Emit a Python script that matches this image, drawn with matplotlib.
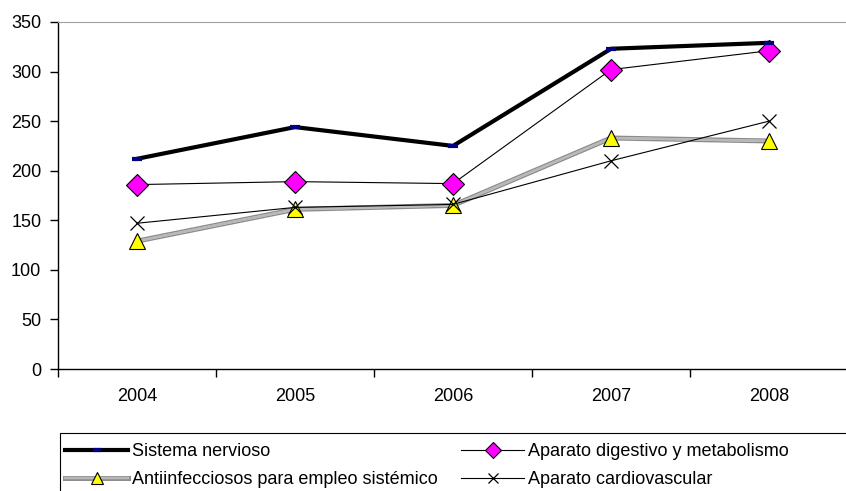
import numpy as np
import matplotlib.pyplot as plt
import matplotlib.patheffects as pe
from matplotlib.patches import Rectangle

plt.rcParams['font.family'] = ['Liberation Sans', 'DejaVu Sans']

# datos
years = ["2004", "2005", "2006", "2007", "2008"]
nervioso = [212, 244, 225, 323, 329]
digestivo = [186, 189, 187, 302, 321]
antiinf = [129, 161, 165, 233, 230]
cardio = [147, 163, 166, 210, 250]

W, H = 846, 491
fig = plt.figure(figsize=(W / 100, H / 100), dpi=100)
ax = fig.add_axes([58 / W, 1 - 369 / H, (848 - 58) / W, (369 - 22) / H])

x = np.arange(len(years))

# linea gris "rayada" de antiinfecciosos
gris = [pe.Stroke(linewidth=3.6, foreground="#8c8c8c"),
        pe.Stroke(linewidth=1.6, foreground="#d4d4d4"), pe.Normal()]

l1, = ax.plot(x, nervioso, color="black", lw=3, marker="_", ms=7, mew=3,
              mec="#000080", label="Sistema nervioso", zorder=5)
l2, = ax.plot(x, digestivo, color="black", lw=0.8, marker="D", ms=11, mfc="#ff00ff",
              mec="black", mew=0.8, label="Aparato digestivo y metabolismo", zorder=4)
l3, = ax.plot(x, antiinf, color="#b8b8b8", lw=1.6, label="Antiinfecciosos para empleo sistémico",
              zorder=3, path_effects=gris)
m3, = ax.plot(x, antiinf, ls="none", marker="^", ms=12, mfc="#ffff00",
              mec="black", mew=0.8, zorder=3.5)
l4, = ax.plot(x, cardio, color="black", lw=0.8, marker="x", ms=10, mew=0.9,
              label="Aparato cardiovascular", zorder=4)

ax.set_xlim(-0.5, len(years) - 0.5)
ax.set_ylim(0, 350)
ax.set_yticks(np.arange(0, 351, 50))
ax.set_xticks(x)
ax.set_xticklabels(years)
ax.set_xticks(np.arange(-0.5, len(years), 1), minor=True)
ax.tick_params(axis="x", which="major", length=0, pad=14, labelsize=13)
ax.tick_params(axis="x", which="minor", length=6, direction="out", width=1)
ax.tick_params(axis="y", length=6, direction="out", labelsize=13, width=1, pad=6)

ax.spines["top"].set_color("#a0a0a0")
ax.spines["right"].set_visible(False)
ax.spines["left"].set_linewidth(1)
ax.spines["bottom"].set_linewidth(1)

# leyenda: marcador del triangulo junto con la linea gris
h3 = (l3, m3)
leg = fig.legend(handles=[l1, h3, l2, l4],
                 labels=[l1.get_label(), l3.get_label(), l2.get_label(), l4.get_label()],
                 ncol=2, loc="upper left", bbox_to_anchor=(65 / W, 1 - 443 / H),
                 fontsize=13, frameon=False, handlelength=3.5, handletextpad=0.2,
                 borderpad=0, labelspacing=0.62, columnspacing=1.3, borderaxespad=0,
                 markerscale=0.75)
fig.add_artist(Rectangle((60 / W, 1 - 500 / H), 800 / W, 67 / H, transform=fig.transFigure,
                         fill=False, edgecolor="black", lw=0.8))

fig.savefig("out.png", dpi=100)
